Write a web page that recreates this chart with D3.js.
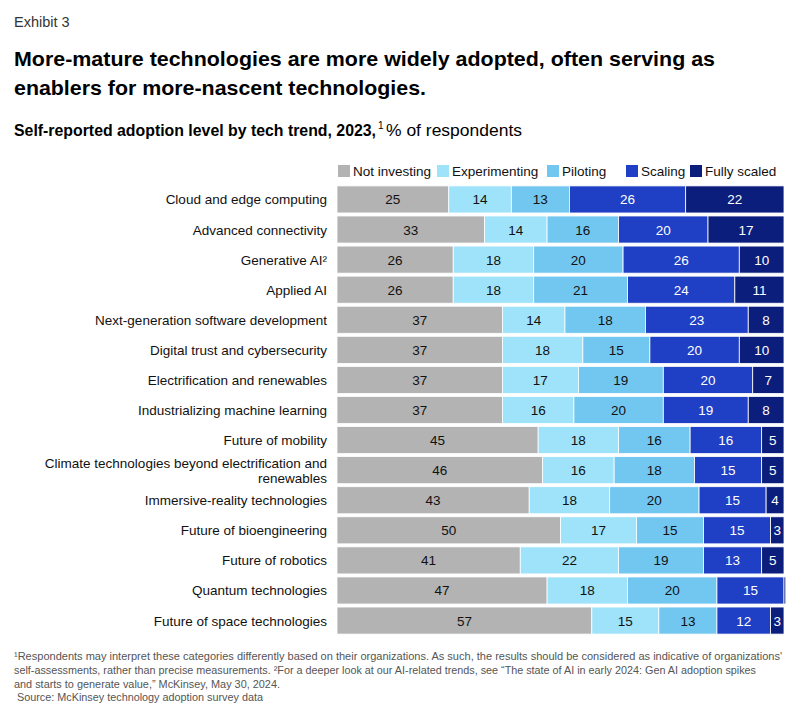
<!DOCTYPE html>
<html><head><meta charset="utf-8">
<script src="https://cdn.jsdelivr.net/npm/d3@7"></script>
<style>body{margin:0;background:#fff}svg{display:block}</style>
</head><body>
<svg id="c" width="800" height="713"></svg>
<script>
const categories = [
  ["Cloud and edge computing"],
  ["Advanced connectivity"],
  ["Generative AI²"],
  ["Applied AI"],
  ["Next-generation software development"],
  ["Digital trust and cybersecurity"],
  ["Electrification and renewables"],
  ["Industrializing machine learning"],
  ["Future of mobility"],
  ["Climate technologies beyond electrification and", "renewables"],
  ["Immersive-reality technologies"],
  ["Future of bioengineering"],
  ["Future of robotics"],
  ["Quantum technologies"],
  ["Future of space technologies"]
];
const seriesNames = ["Not investing", "Experimenting", "Piloting", "Scaling", "Fully scaled"];
const notInvesting  = [25,33,26,26,37,37,37,37,45,46,43,50,41,47,57];
const experimenting = [14,14,18,18,14,18,17,16,18,16,18,17,22,18,15];
const piloting      = [13,16,20,21,18,15,19,20,16,18,20,15,19,20,13];
const scaling       = [26,20,26,24,23,20,20,19,16,15,15,15,13,15,12];
const fullyScaled   = [22,17,10,11,8,10,7,8,5,5,4,3,5,0.4,3];
const colors = ["#b3b3b3", "#9fe3fb", "#72c7f1", "#1f3fc4", "#0c1e7b"];
const textColors = ["#111", "#111", "#111", "#fff", "#fff"];

const svg = d3.select("#c");
const FONT = "'Liberation Sans', Arial, sans-serif";

function fitText(sel, w) {
  const n = sel.node();
  if (n.getComputedTextLength() > 0) sel.attr("textLength", w).attr("lengthAdjust", "spacingAndGlyphs");
}

svg.append("text").attr("x", 14).attr("y", 27).text("Exhibit 3")
  .attr("font-family", FONT).attr("font-size", 14.5).attr("fill", "#333");

const t1 = svg.append("text").attr("x", 14).attr("y", 66)
  .text("More-mature technologies are more widely adopted, often serving as")
  .attr("font-family", FONT).attr("font-size", 21).attr("font-weight", "bold").attr("fill", "#000");
fitText(t1, 701);
const t2 = svg.append("text").attr("x", 14).attr("y", 95)
  .text("enablers for more-nascent technologies.")
  .attr("font-family", FONT).attr("font-size", 21).attr("font-weight", "bold").attr("fill", "#000");
fitText(t2, 412);

const st = svg.append("text").attr("x", 14).attr("y", 136)
  .attr("font-family", FONT).attr("font-size", 16).attr("fill", "#000");
const stb = st.append("tspan").attr("font-weight", "bold").text("Self-reported adoption level by tech trend, 2023,");
const subB = svg.append("text").attr("x", 14).attr("y", 136).attr("font-family", FONT).attr("font-size", 16)
  .attr("font-weight", "bold").text("Self-reported adoption level by tech trend, 2023,");
fitText(subB, 362);
st.remove();
svg.append("text").attr("x", 378).attr("y", 129).text("1")
  .attr("font-family", FONT).attr("font-size", 10).attr("fill", "#000");
const subR = svg.append("text").attr("x", 386).attr("y", 136).text("% of respondents")
  .attr("font-family", FONT).attr("font-size", 16).attr("fill", "#000");
fitText(subR, 136);

// scales
const x = d3.scaleLinear().domain([0, 100]).range([337, 784]);
const y = d3.scaleBand().domain(d3.range(categories.length)).range([185, 635]).paddingInner(0.1).paddingOuter(0.03);

// legend
const legendX = [338, 437, 547, 626, 690];
const lg = svg.append("g").selectAll("g").data(seriesNames).join("g")
  .attr("transform", (d, i) => `translate(${legendX[i]},165)`);
lg.append("rect").attr("width", 12).attr("height", 12).attr("fill", (d, i) => colors[i]);
lg.append("text").attr("x", 15).attr("y", 11).text(d => d)
  .attr("font-family", FONT).attr("font-size", 13.5).attr("fill", "#111");

// stacked data
const rows = categories.map((c, i) => ({
  idx: i,
  "Not investing": notInvesting[i], "Experimenting": experimenting[i], "Piloting": piloting[i],
  "Scaling": scaling[i], "Fully scaled": fullyScaled[i]
}));
const stack = d3.stack().keys(seriesNames)(rows);

const layers = svg.append("g").selectAll("g").data(stack).join("g")
  .attr("fill", (d, i) => colors[i]);
layers.selectAll("rect").data(d => d).join("rect")
  .attr("x", d => x(d[0]))
  .attr("y", d => y(d.data.idx))
  .attr("width", d => Math.max(0, x(d[1]) - x(d[0])))
  .attr("height", y.bandwidth())
  .attr("stroke", "#fff").attr("stroke-width", 0.8);

stack.forEach((layer, si) => {
  svg.append("g").selectAll("text").data(layer.filter(d => d[1] - d[0] >= 1)).join("text")
    .attr("x", d => (x(d[0]) + x(d[1])) / 2)
    .attr("y", d => y(d.data.idx) + y.bandwidth() / 2 + 5)
    .attr("text-anchor", "middle")
    .attr("font-family", FONT).attr("font-size", 13.5)
    .attr("fill", textColors[si])
    .text(d => Math.round(d[1] - d[0]));
});

// category labels
const labels = svg.append("g").selectAll("text").data(categories).join("text")
  .attr("text-anchor", "end")
  .attr("font-family", FONT).attr("font-size", 13.5).attr("fill", "#111")
  .attr("transform", (d, i) => `translate(327,${y(i) + y.bandwidth() / 2 + 5 - (d.length - 1) * 7.5})`);
labels.selectAll("tspan").data(d => d).join("tspan")
  .attr("x", 0).attr("dy", (d, i) => i === 0 ? 0 : 15).text(d => d);

// footnotes
const notes = [
  ["¹Respondents may interpret these categories differently based on their organizations. As such, the results should be considered as indicative of organizations'", 14, 660, 768],
  ["self-assessments, rather than precise measurements. ²For a deeper look at our AI-related trends, see \u201CThe state of AI in early 2024: Gen AI adoption spikes", 14, 674, 742],
  ["and starts to generate value,\u201D McKinsey, May 30, 2024.", 14, 688, 266],
  ["Source: McKinsey technology adoption survey data", 17, 701, 246]
];
notes.forEach(n => {
  const t = svg.append("text").attr("x", n[1]).attr("y", n[2]).text(n[0])
    .attr("font-family", FONT).attr("font-size", 11).attr("fill", "#555");
  fitText(t, n[3]);
});
</script>
</body></html>
